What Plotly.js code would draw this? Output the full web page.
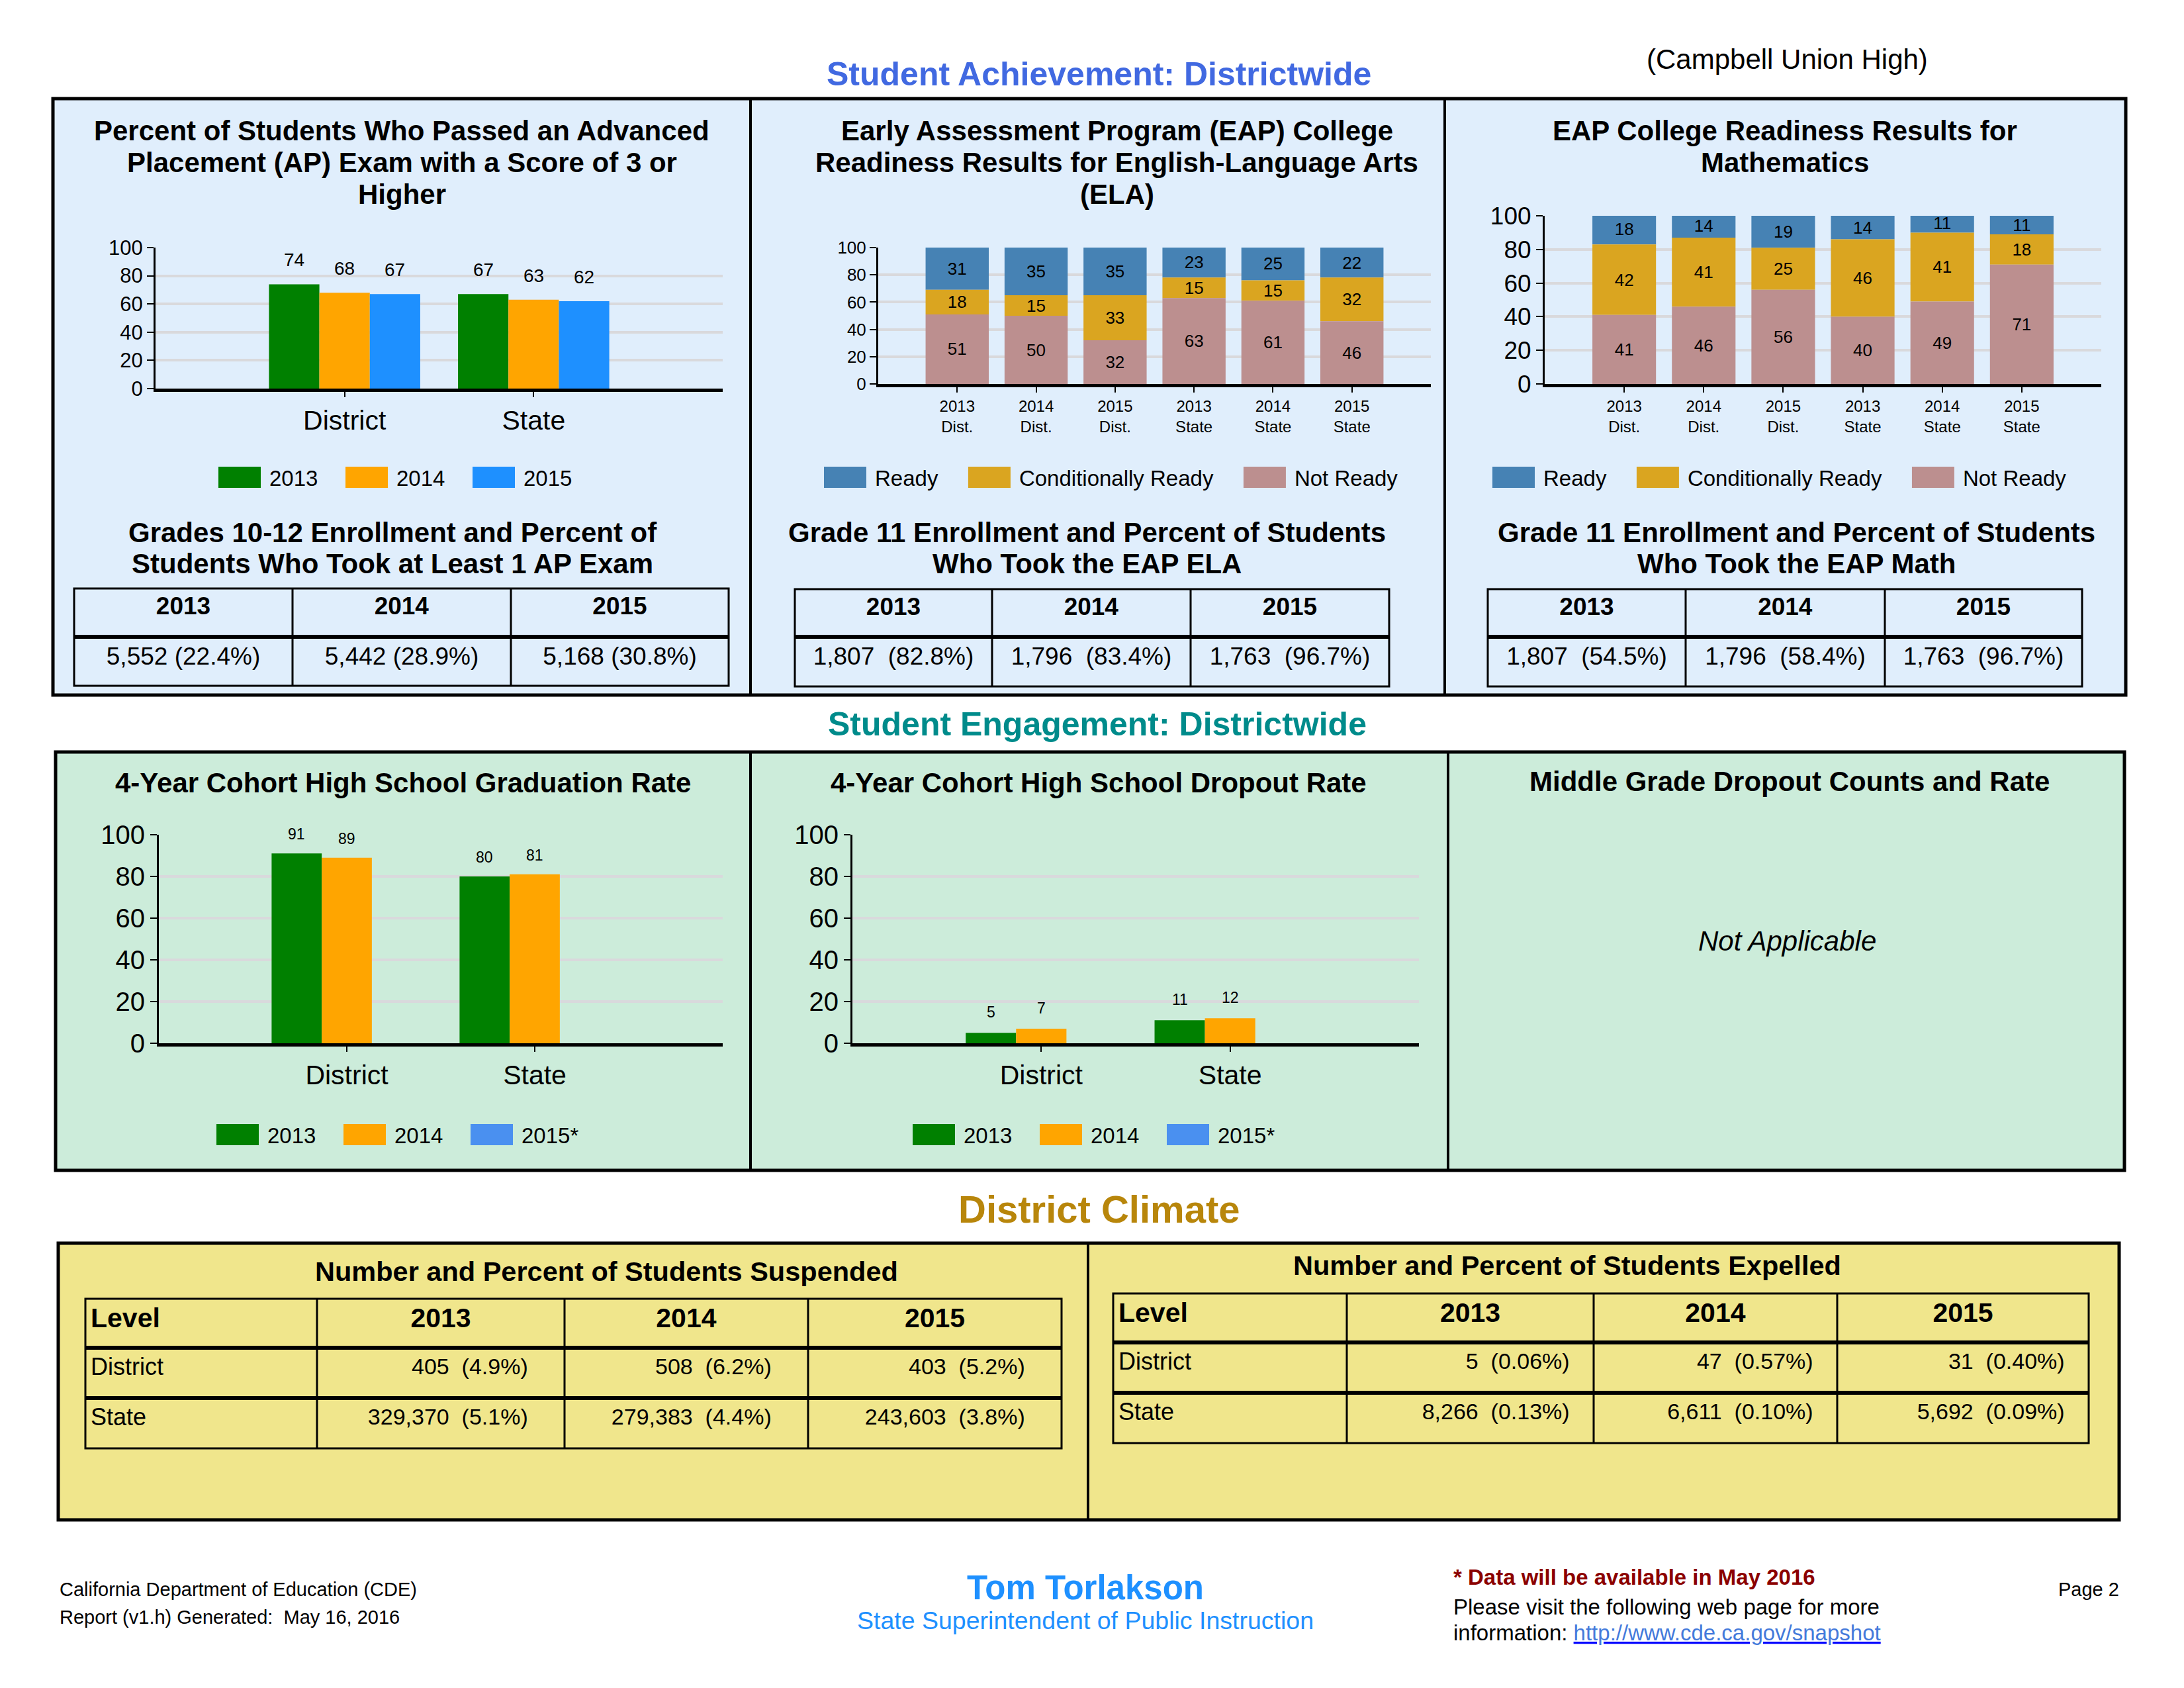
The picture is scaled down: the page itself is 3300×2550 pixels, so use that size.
<!DOCTYPE html>
<html><head><meta charset="utf-8">
<script src="https://cdn.plot.ly/plotly-3.0.1.min.js"></script>
<style>html,body{margin:0;padding:0;background:#fff}#chart{width:3300px;height:2550px}</style>
</head><body><div id="chart"></div>
<script>
// ---------------- DATA ----------------
const years = ['2013', '2014', '2015'];
const levels = ['District', 'State'];

const apPass2013 = [74, 67];
const apPass2014 = [68, 63];
const apPass2015 = [67, 62];
const apEnroll = ['5,552 (22.4%)', '5,442 (28.9%)', '5,168 (30.8%)'];

const eapCats = ['2013<br>Dist.', '2014<br>Dist.', '2015<br>Dist.', '2013<br>State', '2014<br>State', '2015<br>State'];
const readiness = ['Ready', 'Conditionally Ready', 'Not Ready'];
const elaReady = [31, 35, 35, 23, 25, 22];
const elaCond = [18, 15, 33, 15, 15, 32];
const elaNot = [51, 50, 32, 63, 61, 46];
const elaEnroll = ['1,807  (82.8%)', '1,796  (83.4%)', '1,763  (96.7%)'];

const mathReady = [18, 14, 19, 14, 11, 11];
const mathCond = [42, 41, 25, 46, 41, 18];
const mathNot = [41, 46, 56, 40, 49, 71];
const mathEnroll = ['1,807  (54.5%)', '1,796  (58.4%)', '1,763  (96.7%)'];

const grad2013 = [91, 80];
const grad2014 = [89, 81];
const grad2015 = [null, null];

const drop2013 = [5, 11];
const drop2014 = [7, 12];
const drop2015 = [null, null];

const climateHeader = ['Level', '2013', '2014', '2015'];
const suspLevels = ['District', 'State'];
const susp2013 = ['405  (4.9%)', '329,370  (5.1%)'];
const susp2014 = ['508  (6.2%)', '279,383  (4.4%)'];
const susp2015 = ['403  (5.2%)', '243,603  (3.8%)'];
const exp2013 = ['5  (0.06%)', '8,266  (0.13%)'];
const exp2014 = ['47  (0.57%)', '6,611  (0.10%)'];
const exp2015 = ['31  (0.40%)', '5,692  (0.09%)'];

// ---------------- STYLE / LAYOUT HELPERS ----------------
const FONT = 'Liberation Sans, Arial, Helvetica, sans-serif';
const W = 3300, H = 2550;
const BARGAP = 0.2;
const X = v => v / W;
const Y = v => 1 - v / H;
const GREEN = '#008000', ORANGE = '#FFA500', BLUE = '#1E90FF', BLUE2 = '#4A90F0';
const C_READY = '#4682B4', C_COND = '#DAA520', C_NOT = '#BC8F8F';
const NB = '\u00A0';
const keep = s => s.replace(/  /g, NB + ' ');
const pad = (s, n) => keep(s) + NB.repeat(n);
const b = s => '<b>' + s + '</b>';

const annotations = [];
function note(text, x, y, size, o) {
  o = o || {};
  annotations.push({
    text: text, x: X(x), y: Y(y), xref: 'paper', yref: 'paper', showarrow: false,
    xanchor: o.anchor || 'center', yanchor: 'middle',
    font: {family: FONT, size: size, color: o.color || '#000'}
  });
}
// value labels above grouped bars, placed in the axes' data coordinates
function barLabels(seriesList, ax, ay, size, shift) {
  const n = seriesList.length, w = (1 - BARGAP) / n;
  seriesList.forEach((ys, k) => ys.forEach((v, i) => {
    if (v == null) return;
    annotations.push({xref: ax, yref: ay, x: i + (k - (n - 1) / 2) * w, y: v, text: String(v),
      showarrow: false, xanchor: 'center', yanchor: 'bottom', yshift: shift,
      font: {family: FONT, size: size, color: '#000'}});
  }));
}

const shapes = [];
function box(x0, y0, x1, y1, fill, lw) {
  shapes.push({type: 'rect', xref: 'paper', yref: 'paper', x0: X(x0), x1: X(x1), y0: Y(y1), y1: Y(y0),
    fillcolor: fill, line: {color: '#000', width: lw}, layer: 'below'});
}
function vline(x, y0, y1, lw) {
  shapes.push({type: 'line', xref: 'paper', yref: 'paper', x0: X(x), x1: X(x), y0: Y(y0), y1: Y(y1),
    line: {color: '#000', width: lw}, layer: 'below'});
}
function hline(x0, x1, y, lw) {
  shapes.push({type: 'line', xref: 'paper', yref: 'paper', x0: X(x0), x1: X(x1), y0: Y(y), y1: Y(y),
    line: {color: '#000', width: lw}, layer: 'below'});
}
function grid(cols, rows) {
  const x0 = cols[0], x1 = cols[cols.length - 1], y0 = rows[0], y1 = rows[rows.length - 1];
  box(x0, y0, x1, y1, 'rgba(0,0,0,0)', 3);
  cols.slice(1, -1).forEach(c => vline(c, y0, y1, 3));
  rows.slice(1, -1).forEach(r => hline(x0, x1, r, 6));
}

// text offsets of the table layer relative to the drawn grid
const DY_HEAD = -2, DY_CELL = 6;
function table(cols, rows, header, cells, o) {
  grid(cols, rows);
  const hh = rows[1] - rows[0], ch = rows[2] - rows[1];
  const top = rows[0] + DY_HEAD;
  const headH = hh - DY_HEAD + DY_CELL;
  const bottom = top + headH + ch * (rows.length - 2) + 14;
  return {
    type: 'table',
    domain: {x: [X(cols[0]), X(cols[cols.length - 1])], y: [Y(bottom), Y(top)]},
    columnwidth: cols.slice(1).map((c, i) => c - cols[i]),
    header: {values: header, height: headH, align: o.halign,
      line: {width: 0, color: 'rgba(0,0,0,0)'}, fill: {color: 'rgba(0,0,0,0)'},
      font: {family: FONT, size: o.hsize, color: '#000'}},
    cells: {values: cells, height: ch, align: o.calign,
      line: {width: 0, color: 'rgba(0,0,0,0)'}, fill: {color: 'rgba(0,0,0,0)'},
      font: {family: FONT, size: o.csize, color: '#000'}}
  };
}

function yax(top, bottom, size, anchor) {
  return {domain: [Y(bottom), Y(top)], range: [0, 100], tickvals: [0, 20, 40, 60, 80, 100],
    ticks: 'outside', ticklen: 10, tickwidth: 2, tickcolor: '#000',
    showline: true, linecolor: '#000', linewidth: 3,
    showgrid: true, gridcolor: '#d9d9dc', gridwidth: 4, zeroline: false, fixedrange: true,
    tickfont: {family: FONT, size: size, color: '#000'}, anchor: anchor};
}
function xax(left, right, range, size, anchor) {
  return {domain: [X(left), X(right)], range: range, type: 'category',
    ticks: 'outside', ticklen: 8, tickwidth: 2, tickcolor: '#000',
    showline: true, linecolor: '#000', linewidth: 5, showgrid: false, zeroline: false, fixedrange: true,
    tickfont: {family: FONT, size: size, color: '#000'}, ticklabelstandoff: 0, anchor: anchor};
}
function legend(x, y, ew) {
  const L = {x: X(x), y: Y(y), xanchor: 'center', yanchor: 'middle', orientation: 'h',
    bgcolor: 'rgba(0,0,0,0)', borderwidth: 0, font: {family: FONT, size: 33, color: '#000'},
    itemwidth: 80, itemclick: false, itemdoubleclick: false, traceorder: 'normal'};
  if (ew) { L.entrywidth = ew; L.entrywidthmode = 'pixels'; }
  return L;
}

function groupBar(name, xs, ys, color, ax, lg) {
  return {type: 'bar', name: name, x: xs, y: ys, marker: {color: color},
    xaxis: ax[0], yaxis: ax[1], legend: lg, hoverinfo: 'skip'};
}
function stackBar(name, xs, ys, base, color, ax, lg, grp) {
  return {type: 'bar', name: name, x: xs, y: ys, base: base, offsetgroup: grp,
    marker: {color: color}, xaxis: ax[0], yaxis: ax[1], legend: lg,
    text: ys.map(String), textposition: 'inside', insidetextanchor: 'middle',
    constraintext: 'none', textangle: 0,
    textfont: {family: FONT, size: 26, color: '#000'},
    insidetextfont: {family: FONT, size: 26, color: '#000'}, hoverinfo: 'skip'};
}
const sum2 = (a, b2) => a.map((v, i) => v + b2[i]);
// extra spacing after legend labels (all but last)
const lgName = (arr, i) => arr[i] + (i < arr.length - 1 ? NB.repeat(3) : '');

// ---------------- PANELS (backgrounds) ----------------
box(80, 149, 3212, 1050, '#E0EEFC', 5);
vline(1134, 149, 1050, 4);
vline(2183, 149, 1050, 4);
box(84, 1136, 3210, 1768, '#CCECDA', 5);
vline(1134, 1136, 1768, 4);
vline(2188, 1136, 1768, 4);
box(88, 1878, 3202, 2296, '#F0E68C', 5);
vline(1644, 1878, 2296, 4);

// ---------------- TRACES ----------------
const data = [];
// AP
data.push(groupBar(years[0], levels, apPass2013, GREEN, ['x', 'y'], 'legend'));
data.push(groupBar(years[1], levels, apPass2014, ORANGE, ['x', 'y'], 'legend'));
data.push(groupBar(years[2], levels, apPass2015, BLUE, ['x', 'y'], 'legend'));
barLabels([apPass2013, apPass2014, apPass2015], 'x', 'y', 28, 19);
// ELA stacked
data.push(stackBar(lgName(readiness, 0), eapCats, elaReady, sum2(elaNot, elaCond), C_READY, ['x2', 'y2'], 'legend2', 'ela'));
data.push(stackBar(lgName(readiness, 1), eapCats, elaCond, elaNot, C_COND, ['x2', 'y2'], 'legend2', 'ela'));
data.push(stackBar(lgName(readiness, 2), eapCats, elaNot, elaNot.map(() => 0), C_NOT, ['x2', 'y2'], 'legend2', 'ela'));
// Math stacked
data.push(stackBar(lgName(readiness, 0), eapCats, mathReady, sum2(mathNot, mathCond), C_READY, ['x3', 'y3'], 'legend3', 'math'));
data.push(stackBar(lgName(readiness, 1), eapCats, mathCond, mathNot, C_COND, ['x3', 'y3'], 'legend3', 'math'));
data.push(stackBar(lgName(readiness, 2), eapCats, mathNot, mathNot.map(() => 0), C_NOT, ['x3', 'y3'], 'legend3', 'math'));
// Graduation
data.push(groupBar(years[0], levels, grad2013, GREEN, ['x4', 'y4'], 'legend4'));
data.push(groupBar(years[1], levels, grad2014, ORANGE, ['x4', 'y4'], 'legend4'));
data.push(groupBar(years[2] + '*', levels, grad2015, BLUE2, ['x4', 'y4'], 'legend4'));
barLabels([grad2013, grad2014, grad2015], 'x4', 'y4', 23, 14);
// Dropout
data.push(groupBar(years[0], levels, drop2013, GREEN, ['x5', 'y5'], 'legend5'));
data.push(groupBar(years[1], levels, drop2014, ORANGE, ['x5', 'y5'], 'legend5'));
data.push(groupBar(years[2] + '*', levels, drop2015, BLUE2, ['x5', 'y5'], 'legend5'));
barLabels([drop2013, drop2014, drop2015], 'x5', 'y5', 23, 16);

// Tables
const yearHdr = years.map(b);
data.push(table([112, 442, 772, 1101], [889, 962, 1036], yearHdr, apEnroll.map(v => [keep(v)]),
  {halign: 'center', calign: 'center', hsize: 37, csize: 37}));
data.push(table([1201, 1499, 1799, 2099], [890, 962, 1037], yearHdr, elaEnroll.map(v => [keep(v)]),
  {halign: 'center', calign: 'center', hsize: 37, csize: 37}));
data.push(table([2248, 2547, 2848, 3146], [890, 962, 1037], yearHdr, mathEnroll.map(v => [keep(v)]),
  {halign: 'center', calign: 'center', hsize: 37, csize: 37}));
data.push(table([129, 479, 853, 1221, 1604], [1962, 2036, 2112, 2188], climateHeader.map(b),
  [suspLevels, susp2013.map(v => pad(v, 5)), susp2014.map(v => pad(v, 5)), susp2015.map(v => pad(v, 5))],
  {halign: ['left', 'center', 'center', 'center'], calign: ['left', 'right', 'right', 'right'], hsize: 41, csize: [36, 34, 34, 34]}));
data.push(table([1682, 2035, 2408, 2776, 3156], [1954, 2028, 2104, 2180], climateHeader.map(b),
  [suspLevels, exp2013.map(v => pad(v, 3)), exp2014.map(v => pad(v, 3)), exp2015.map(v => pad(v, 3))],
  {halign: ['left', 'center', 'center', 'center'], calign: ['left', 'right', 'right', 'right'], hsize: 41, csize: [36, 34, 34, 34]}));

// ---------------- TEXT ----------------
note(b('Student Achievement: Districtwide'), 1660, 112, 50, {color: '#4169E1'});
note('(Campbell Union High)', 2700, 90, 42);

note(b('Percent of Students Who Passed an Advanced'), 607, 197, 42);
note(b('Placement (AP) Exam with a Score of 3 or'), 607, 246, 42);
note(b('Higher'), 607, 294, 42);
note(b('Early Assessment Program (EAP) College'), 1688, 197, 42);
note(b('Readiness Results for English-Language Arts'), 1688, 246, 42);
note(b('(ELA)'), 1688, 294, 42);
note(b('EAP College Readiness Results for'), 2697, 197, 42);
note(b('Mathematics'), 2697, 246, 42);

note(b('Grades 10-12 Enrollment and Percent of'), 593, 804, 42);
note(b('Students Who Took at Least 1 AP Exam'), 593, 851, 42);
note(b('Grade 11 Enrollment and Percent of Students'), 1642, 804, 42);
note(b('Who Took the EAP ELA'), 1642, 851, 42);
note(b('Grade 11 Enrollment and Percent of Students'), 2714, 804, 42);
note(b('Who Took the EAP Math'), 2714, 851, 42);

note(b('Student Engagement: Districtwide'), 1658, 1094, 50, {color: '#008B8B'});
note(b('4-Year Cohort High School Graduation Rate'), 609, 1182, 42);
note(b('4-Year Cohort High School Dropout Rate'), 1660, 1182, 42);
note(b('Middle Grade Dropout Counts and Rate'), 2704, 1180, 42);
note('<i>Not Applicable</i>', 2700, 1421, 42);

note(b('District Climate'), 1660, 1826, 58, {color: '#B8860B'});
note(b('Number and Percent of Students Suspended'), 916, 1920, 41.5);
note(b('Number and Percent of Students Expelled'), 2368, 1911, 41.5);

note('California Department of Education (CDE)', 88, 2401, 29, {anchor: 'left'});
note('Report (v1.h) Generated:' + NB + ' May 16, 2016', 88, 2443, 29, {anchor: 'left'});
note(b('Tom Torlakson'), 1640, 2398, 51, {color: '#1E90FF'});
note('State Superintendent of Public Instruction', 1640, 2448, 37.5, {color: '#1E90FF'});
note(b('* Data will be available in May 2016'), 2194, 2382, 33, {anchor: 'left', color: '#8B0000'});
note('Please visit the following web page for more', 2194, 2427, 33, {anchor: 'left'});
note('information: <span style="color:#0000FF;text-decoration:underline"><a href="http://www.cde.ca.gov/snapshot">http://www.cde.ca.gov/snapshot</a></span>', 2194, 2466, 33, {anchor: 'left'});
note('Page 2', 3204, 2401, 29, {anchor: 'right'});

// ---------------- LAYOUT ----------------
const layout = {
  width: W, height: H, margin: {l: 0, r: 0, t: 0, b: 0},
  paper_bgcolor: '#fff', plot_bgcolor: 'rgba(0,0,0,0)',
  font: {family: FONT, color: '#000'},
  barmode: 'group', bargap: BARGAP, bargroupgap: 0, hovermode: false, showlegend: true,
  xaxis: xax(235, 1092, [-1, 2], 41, 'y'),
  yaxis: yax(374, 587, 31, 'x'),
  xaxis2: xax(1327, 2162, [-1, 6], 24, 'y2'),
  yaxis2: yax(374, 580, 26, 'x2'),
  xaxis3: xax(2334, 3175, [-1, 6], 24, 'y3'),
  yaxis3: yax(326, 580, 37, 'x3'),
  xaxis4: xax(240, 1092, [-1, 2], 41, 'y4'),
  yaxis4: yax(1261, 1576, 40, 'x4'),
  xaxis5: xax(1288, 2144, [-1, 2], 41, 'y5'),
  yaxis5: yax(1261, 1576, 40, 'x5'),
  legend: legend(605, 721, 97),
  legend2: legend(1675, 721),
  legend3: legend(2685, 721),
  legend4: legend(602, 1714, 97),
  legend5: legend(1654, 1714, 97),
  shapes: shapes, annotations: annotations
};

const gd = document.getElementById('chart');
Plotly.newPlot(gd, data, layout, {staticPlot: true, displayModeBar: false}).then(function () {
  gd.querySelectorAll('g.legendpoints path').forEach(function (p) {
    p.setAttribute('d', 'M-32,-16H32V16H-32Z');
  });
});
</script></body></html>
